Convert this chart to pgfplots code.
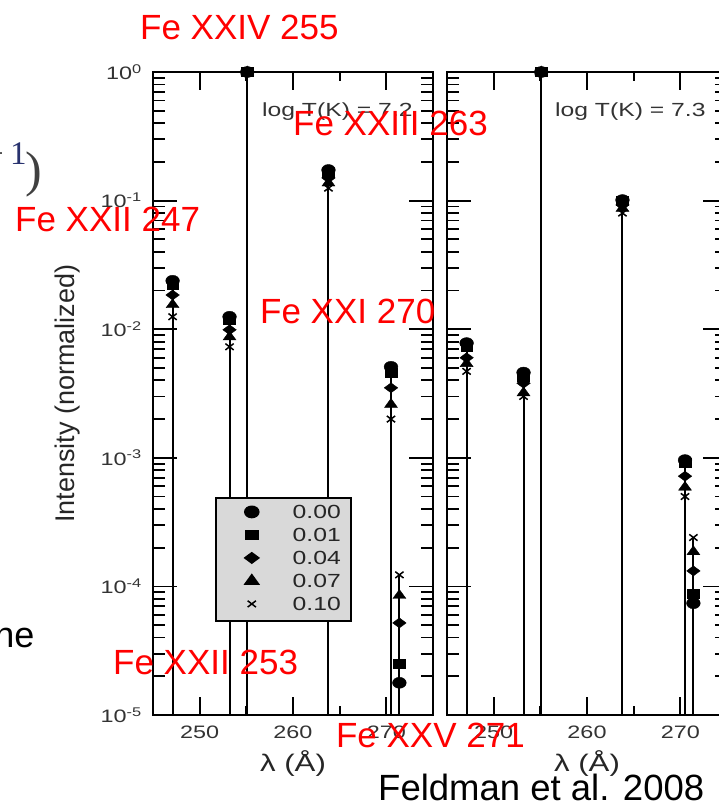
\documentclass[border=0pt]{standalone}
\usepackage{fontspec}
\setmainfont{Liberation Sans}
\newfontfamily\cf[FakeStretch=1.3]{Liberation Sans}
\newfontfamily\lsans{Liberation Sans}
\newfontfamily\lserif{Liberation Serif}
\usepackage{pgfplots}
\pgfplotsset{compat=1.18}
\newcommand\tickfont{\cf\fontsize{18}{18}\selectfont}
\definecolor{navy1}{RGB}{40,50,110}
\tikzset{
  stemln/.style={black, line width=2pt},
  mkc/.style={only marks, mark=*, mark size=5.5pt, mark options={xscale=1.25, fill=black, draw=black, solid}},
  mks/.style={only marks, mark=square*, mark size=4.5pt, mark options={xscale=1.3, fill=black, draw=black, solid}},
  mkd/.style={only marks, mark=diamond*, mark size=5pt, mark options={xscale=1.8, fill=black, draw=black, solid}},
  mkt/.style={only marks, mark=triangle*, mark size=6pt, mark options={xscale=1.25, fill=black, draw=black, solid}},
  mkx/.style={only marks, mark=x, mark size=4.5pt, mark options={xscale=1.3, draw=black, line width=1.5pt, solid}},
}
\begin{document}
\begin{tikzpicture}
\path[use as bounding box] (0pt,0pt) rectangle (719pt,803pt);
\clip (0pt,0pt) rectangle (719pt,803pt);

% ---------- left panel: log T = 7.2 ----------
\begin{axis}[at={(153pt,88pt)}, anchor=south west,
    scale only axis, width=280pt, height=643pt,
    xmin=245, xmax=275, ymode=log, ymin=1e-5, ymax=1,
    clip=false,
    xtick={250,260,270}, minor xtick={255,265},
    xticklabels={250,260,270},
    ytick={1e-5,1e-4,1e-3,1e-2,1e-1,1},
    minor ytick={2e-5,3e-5,4e-5,5e-5,6e-5,7e-5,8e-5,9e-5,
                 2e-4,3e-4,4e-4,5e-4,6e-4,7e-4,8e-4,9e-4,
                 2e-3,3e-3,4e-3,5e-3,6e-3,7e-3,8e-3,9e-3,
                 2e-2,3e-2,4e-2,5e-2,6e-2,7e-2,8e-2,9e-2,
                 2e-1,3e-1,4e-1,5e-1,6e-1,7e-1,8e-1,9e-1},
    tick align=inside, xtick pos=both, ytick pos=both,
    major tick length=24pt, minor tick length=12pt,
    xtick style={/pgfplots/major tick length=18pt,/pgfplots/minor tick length=9pt},
    tick style={black, line width=1.8pt},
    axis line style={line width=2pt},
    xticklabel style={font=\tickfont, text=black!80, anchor=center, inner sep=0pt, yshift=-17pt},
    yticklabel style={font=\tickfont, text=black!80, anchor=east, inner sep=0pt, xshift=-11pt},
    xlabel={λ (Å)},
    xlabel style={font=\cf\fontsize{24}{24}\selectfont, text=black!85, at={(axis description cs:0.5,0)}, anchor=center, yshift=-49pt},
  yticklabels={10\textsuperscript{-5},10\textsuperscript{-4},10\textsuperscript{-3},10\textsuperscript{-2},10\textsuperscript{-1},10\textsuperscript{0}},
  ylabel={Intensity (normalized)},
  ylabel style={font=\lsans\fontsize{27}{27}\selectfont, text=black!85, at={(axis description cs:-0.3036,0.5)}, anchor=center},
  legend style={at={(0.2214,0.3390)}, anchor=north west, fill=black!15, draw=black, line width=1.8pt,
    inner xsep=10pt, inner ysep=4pt, column sep=15pt, row sep=0pt,
    font=\cf\fontsize{19}{19}\selectfont, text=black!85,
    nodes={inner sep=0pt, text height=17pt, text depth=6pt, anchor=base west}},
  legend image code/.code={\path (-25pt,7pt) (25pt,7pt); \draw[#1] plot coordinates {(0pt,7pt)};},
]
\addplot[stemln, forget plot] coordinates {(247.1,1e-5) (247.1,0.0238)};
\addplot[stemln, forget plot] coordinates {(253.2,1e-5) (253.2,0.0125)};
\addplot[stemln, forget plot] coordinates {(255.1,1e-5) (255.1,1)};
\addplot[stemln, forget plot] coordinates {(263.8,1e-5) (263.8,0.173)};
\addplot[stemln, forget plot] coordinates {(270.5,1e-5) (270.5,0.0051)};
\addplot[stemln, forget plot] coordinates {(271.4,1e-5) (271.4,1.23e-4)};
\addplot[mkc] coordinates {(247.1,0.0238) (253.2,0.0125) (255.1,1) (263.8,0.173) (270.5,0.0051) (271.4,1.78e-5)};
\addplot[mks] coordinates {(247.1,0.0221) (253.2,0.0118) (255.1,1) (263.8,0.164) (270.5,0.0046) (271.4,2.5e-5)};
\addplot[mkd] coordinates {(247.1,0.01845) (253.2,0.0099) (255.1,1) (263.8,0.150) (270.5,0.0035) (271.4,5.2e-5)};
\addplot[mkt] coordinates {(247.1,0.0155) (253.2,0.0087) (255.1,1) (263.8,0.137) (270.5,0.0026) (271.4,8.5e-5)};
\addplot[mkx] coordinates {(247.1,0.0125) (253.2,0.0073) (255.1,1) (263.8,0.125) (270.5,0.0020) (271.4,1.23e-4)};
\legend{0.00,0.01,0.04,0.07,0.10}
\end{axis}

% ---------- right panel: log T = 7.3 ----------
\begin{axis}[at={(447pt,88pt)}, anchor=south west,
    scale only axis, width=280pt, height=643pt,
    xmin=245, xmax=275, ymode=log, ymin=1e-5, ymax=1,
    clip=false,
    xtick={250,260,270}, minor xtick={255,265},
    xticklabels={250,260,270},
    ytick={1e-5,1e-4,1e-3,1e-2,1e-1,1},
    minor ytick={2e-5,3e-5,4e-5,5e-5,6e-5,7e-5,8e-5,9e-5,
                 2e-4,3e-4,4e-4,5e-4,6e-4,7e-4,8e-4,9e-4,
                 2e-3,3e-3,4e-3,5e-3,6e-3,7e-3,8e-3,9e-3,
                 2e-2,3e-2,4e-2,5e-2,6e-2,7e-2,8e-2,9e-2,
                 2e-1,3e-1,4e-1,5e-1,6e-1,7e-1,8e-1,9e-1},
    tick align=inside, xtick pos=both, ytick pos=both,
    major tick length=24pt, minor tick length=12pt,
    xtick style={/pgfplots/major tick length=18pt,/pgfplots/minor tick length=9pt},
    tick style={black, line width=1.8pt},
    axis line style={line width=2pt},
    xticklabel style={font=\tickfont, text=black!80, anchor=center, inner sep=0pt, yshift=-17pt},
    yticklabels={},
    xlabel={λ (Å)},
    xlabel style={font=\cf\fontsize{24}{24}\selectfont, text=black!85, at={(axis description cs:0.5,0)}, anchor=center, yshift=-49pt},
]
\addplot[stemln, forget plot] coordinates {(247.1,1e-5) (247.1,0.0078)};
\addplot[stemln, forget plot] coordinates {(253.2,1e-5) (253.2,0.0046)};
\addplot[stemln, forget plot] coordinates {(255.1,1e-5) (255.1,1)};
\addplot[stemln, forget plot] coordinates {(263.8,1e-5) (263.8,0.101)};
\addplot[stemln, forget plot] coordinates {(270.5,1e-5) (270.5,9.6e-4)};
\addplot[stemln, forget plot] coordinates {(271.4,1e-5) (271.4,2.4e-4)};
\addplot[mkc] coordinates {(247.1,0.0078) (253.2,0.0046) (255.1,1) (263.8,0.101) (270.5,9.6e-4) (271.4,7.4e-5)};
\addplot[mks] coordinates {(247.1,0.0073) (253.2,0.0043) (255.1,1) (263.8,0.099) (270.5,9.1e-4) (271.4,8.7e-5)};
\addplot[mkd] coordinates {(247.1,0.0060) (253.2,0.0038) (255.1,1) (263.8,0.0925) (270.5,7.2e-4) (271.4,1.32e-4)};
\addplot[mkt] coordinates {(247.1,0.0054) (253.2,0.0032) (255.1,1) (263.8,0.087) (270.5,5.9e-4) (271.4,1.86e-4)};
\addplot[mkx] coordinates {(247.1,0.0047) (253.2,0.0030) (255.1,1) (263.8,0.080) (270.5,5.0e-4) (271.4,2.4e-4)};
\end{axis}

% panel annotations
\node[anchor=base west, inner sep=0pt, text=black!80, font=\cf\fontsize{19}{19}\selectfont] at (262pt,686pt) {log T(K) = 7.2};
\node[anchor=base west, inner sep=0pt, text=black!80, font=\cf\fontsize{19}{19}\selectfont] at (555pt,686pt) {log T(K) = 7.3};

% slide fragments
\node[anchor=base east, inner sep=0pt, text=black!80, font=\lserif\fontsize{33}{33}\selectfont] at (4pt,638pt) {+};
\node[anchor=base west, inner sep=0pt, text=navy1, font=\lserif\fontsize{33}{33}\selectfont] at (10pt,638pt) {1};
\node[anchor=center, inner sep=0pt, text=black!75, font=\lserif\fontsize{50}{50}\selectfont] at (34pt,629pt) {)};
\node[anchor=base east, inner sep=0pt, text=black, font=\lsans\fontsize{36}{36}\selectfont] at (34.5pt,155pt) {ne};

% red overlay labels
\node[anchor=west, inner sep=0pt, text=red, font=\lsans\fontsize{35}{35}\selectfont] at (140pt,776pt) {Fe XXIV 255};
\node[anchor=west, inner sep=0pt, text=red, font=\lsans\fontsize{35}{35}\selectfont] at (293pt,679.5pt) {Fe XXIII 263};
\node[anchor=west, inner sep=0pt, text=red, font=\lsans\fontsize{35}{35}\selectfont] at (15pt,584pt) {Fe XXII 247};
\node[anchor=west, inner sep=0pt, text=red, font=\lsans\fontsize{35}{35}\selectfont] at (260pt,491.5pt) {Fe XXI 270};
\node[anchor=west, inner sep=0pt, text=red, font=\lsans\fontsize{35}{35}\selectfont] at (113pt,140.5pt) {Fe XXII 253};
\node[anchor=east, inner sep=0pt, text=red, font=\lsans\fontsize{35}{35}\selectfont] at (525pt,68pt) {Fe XXV 271};
\node[anchor=west, inner sep=0pt, text=black, font=\lsans\fontsize{36.5}{36.5}\selectfont] at (378pt,16pt) {Feldman et al. 2008};
\end{tikzpicture}
\end{document}
